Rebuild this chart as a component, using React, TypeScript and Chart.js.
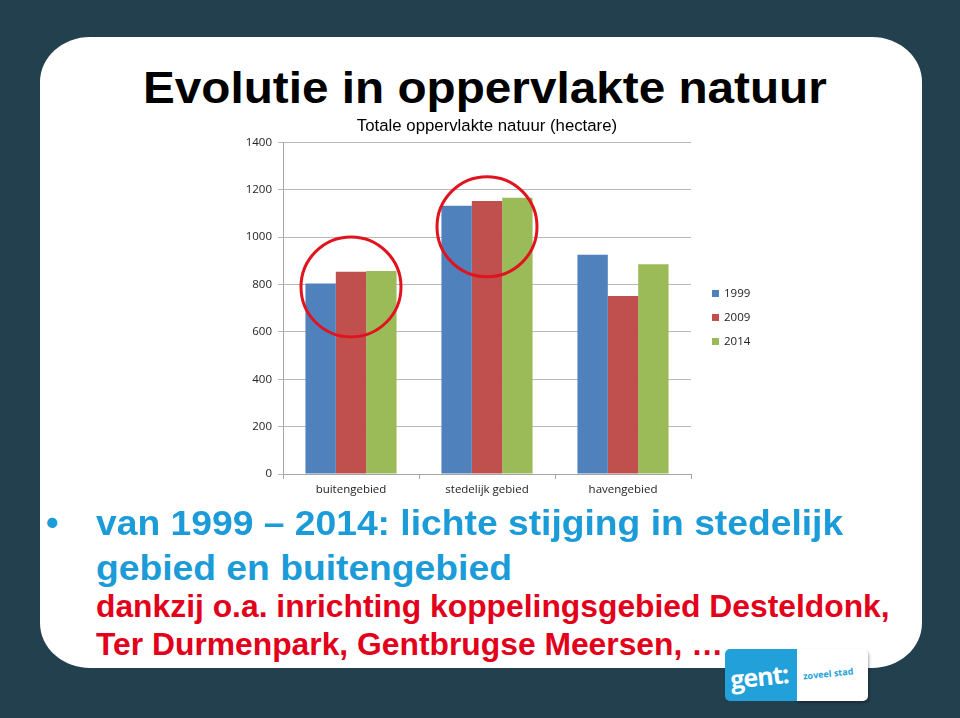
import React, { useEffect, useRef } from "react";
import { Chart, registerables } from "chart.js";

Chart.register(...registerables);

// ---- data ----
const categories = ["buitengebied", "stedelijk gebied", "havengebied"];
const seriesLabels = ["1999", "2009", "2014"];
const values1999 = [805, 1133, 926];
const values2009 = [854, 1153, 752];
const values2014 = [857, 1167, 886];
const seriesColors = ["#4f81bd", "#c0504d", "#9bbb59"];
const yMin = 0;
const yMax = 1400;
const yStep = 200;
const highlightCategories = ["buitengebied", "stedelijk gebied"];
const highlightValues = [790, 1044];

const chartTitle = "Totale oppervlakte natuur (hectare)";
const slideTitle = "Evolutie in oppervlakte natuur";
const blueLines = ["van 1999 \u2013 2014: lichte stijging in stedelijk", "gebied en buitengebied"];
const redLines = ["dankzij o.a. inrichting koppelingsgebied Desteldonk,", "Ter Durmenpark, Gentbrugse Meersen, \u2026"];

const FONT = "'Liberation Sans', Arial, sans-serif";
const TICK_FONT = "'Open Sans', sans-serif";

const circlePlugin = {
  id: "circles",
  afterDatasetsDraw(chart: any) {
    const { ctx, scales } = chart;
    ctx.save();
    ctx.strokeStyle = "#e0141e";
    ctx.lineWidth = 3;
    highlightCategories.forEach((cat, i) => {
      const idx = categories.indexOf(cat);
      const x = scales.x.getPixelForValue(idx);
      const y = scales.y.getPixelForValue(highlightValues[i]);
      ctx.beginPath();
      ctx.arc(x, y, 50, 0, Math.PI * 2);
      ctx.stroke();
    });
    ctx.restore();
  },
};

const legendPlugin = {
  id: "sideLegend",
  afterDraw(chart: any) {
    const { ctx, chartArea } = chart;
    ctx.save();
    ctx.font = `11.5px ${TICK_FONT}`;
    ctx.textBaseline = "middle";
    ctx.textAlign = "left";
    chart.data.datasets.forEach((ds: any, i: number) => {
      const cy = chartArea.top + 151 + 24 * i;
      const x = chartArea.right + 21;
      ctx.fillStyle = ds.backgroundColor;
      ctx.fillRect(x, cy - 3.5, 7, 7);
      ctx.fillStyle = "#222";
      ctx.fillText(ds.label, x + 12, cy + 0.5);
    });
    ctx.restore();
  },
};

function BarChart() {
  const ref = useRef<HTMLCanvasElement | null>(null);
  useEffect(() => {
    if (!ref.current) return;
    const chart = new Chart(ref.current, {
      type: "bar",
      data: {
        labels: categories,
        datasets: [values1999, values2009, values2014].map((vals, i) => ({
          label: seriesLabels[i],
          data: vals,
          backgroundColor: seriesColors[i],
          borderWidth: 0,
          barPercentage: 1.0,
          categoryPercentage: 0.67,
        })),
      },
      options: {
        animation: false,
        responsive: false,
        devicePixelRatio: 1,
        layout: { padding: { left: 0, right: 109, top: 0, bottom: 0 } },
        plugins: {
          legend: { display: false },
          tooltip: { enabled: false },
          title: {
            display: true,
            text: chartTitle,
            fullSize: false,
            color: "#000",
            font: { family: FONT, size: 16.8, weight: "normal", lineHeight: 1.1 },
            padding: { top: 7, bottom: 7 },
          },
        },
        scales: {
          x: {
            afterFit(scale: any) {
              scale.height = 30;
            },
            grid: {
              drawOnChartArea: false,
              drawTicks: true,
              tickLength: 5,
              color: "#a6a6a6",
              offset: true,
            },
            border: { color: "#a6a6a6" },
            ticks: { color: "#222", font: { family: TICK_FONT, size: 11.5 }, padding: 4 },
          },
          y: {
            min: yMin,
            max: yMax,
            afterFit(scale: any) {
              scale.width = 58;
            },
            grid: { color: "#b8b8b8", tickLength: 5, drawTicks: true },
            border: { color: "#a6a6a6" },
            ticks: {
              stepSize: yStep,
              color: "#222",
              font: { family: TICK_FONT, size: 11.5 },
              padding: 6,
              callback: (v: any) => String(v),
            },
          },
        },
      },
      plugins: [circlePlugin, legendPlugin],
    } as any);
    return () => chart.destroy();
  }, []);
  return (
    <canvas
      ref={ref}
      width={575}
      height={394}
      style={{ position: "absolute", left: 225, top: 110, width: 575, height: 394 }}
    />
  );
}

function textTop(baseline: number, fs: number) {
  return baseline - 0.8465 * fs;
}

export default function App() {
  const titleFs = 45;
  const blueFs = 35;
  const redFs = 30.5;
  const lineStyle = (fs: number, baseline: number, color: string, sx: number): React.CSSProperties => ({
    position: "absolute",
    left: 96,
    top: textTop(baseline, fs),
    fontFamily: FONT,
    fontWeight: "bold",
    fontSize: fs,
    lineHeight: "1",
    color,
    whiteSpace: "nowrap",
    transform: `scaleX(${sx})`,
    transformOrigin: "left top",
  });
  return (
    <div
      style={{
        position: "absolute",
        left: 0,
        top: 0,
        width: 960,
        height: 718,
        background: "#23404f",
        overflow: "hidden",
      }}
    >
      <div
        style={{
          position: "absolute",
          left: 40,
          top: 37,
          width: 882,
          height: 631,
          background: "#fff",
          borderRadius: "50px / 45px",
        }}
      />
      <div
        style={{
          position: "absolute",
          left: 143,
          top: textTop(103, titleFs),
          fontFamily: FONT,
          fontWeight: "bold",
          fontSize: titleFs,
          lineHeight: "1",
          color: "#000",
          whiteSpace: "nowrap",
          transform: "scaleX(1.06)",
          transformOrigin: "left top",
        }}
      >
        {slideTitle}
      </div>
      <BarChart />
      <div
        style={{
          position: "absolute",
          left: 46,
          top: textTop(535, blueFs),
          fontFamily: FONT,
          fontWeight: "bold",
          fontSize: blueFs,
          lineHeight: "1",
          color: "#1b9bd7",
        }}
      >
        {"\u2022"}
      </div>
      <div style={lineStyle(blueFs, 535, "#1b9bd7", 1.064)}>{blueLines[0]}</div>
      <div style={lineStyle(blueFs, 580, "#1b9bd7", 1.064)}>{blueLines[1]}</div>
      <div style={lineStyle(redFs, 617, "#e2001a", 1.043)}>{redLines[0]}</div>
      <div style={lineStyle(redFs, 655, "#e2001a", 1.043)}>{redLines[1]}</div>
      {/* logo */}
      <div
        style={{
          position: "absolute",
          left: 797,
          top: 649,
          width: 71,
          height: 52,
          background: "#fff",
          borderRadius: "0 5px 5px 0",
          boxShadow: "1px 2px 3px rgba(0,0,0,0.35)",
          overflow: "hidden",
        }}
      >
        <div
          style={{
            position: "absolute",
            left: 6,
            top: 18,
            fontFamily: "'Open Sans', sans-serif",
            fontWeight: "bold",
            fontSize: 9,
            color: "#21a0da",
            transform: "rotate(-6deg)",
            whiteSpace: "nowrap",
          }}
        >
          zoveel stad
        </div>
      </div>
      <div
        style={{
          position: "absolute",
          left: 725,
          top: 649,
          width: 72,
          height: 52,
          background: "#21a0da",
          borderRadius: "5px 0 0 5px",
          overflow: "hidden",
        }}
      >
        <div
          style={{
            position: "absolute",
            left: 5,
            top: 12,
            fontFamily: "'Open Sans', sans-serif",
            fontWeight: "bold",
            fontSize: 25,
            lineHeight: "1.2",
            color: "#fff",
            transform: "rotate(-6deg)",
            letterSpacing: "-1px",
            whiteSpace: "nowrap",
          }}
        >
          gent:
        </div>
      </div>
    </div>
  );
}
